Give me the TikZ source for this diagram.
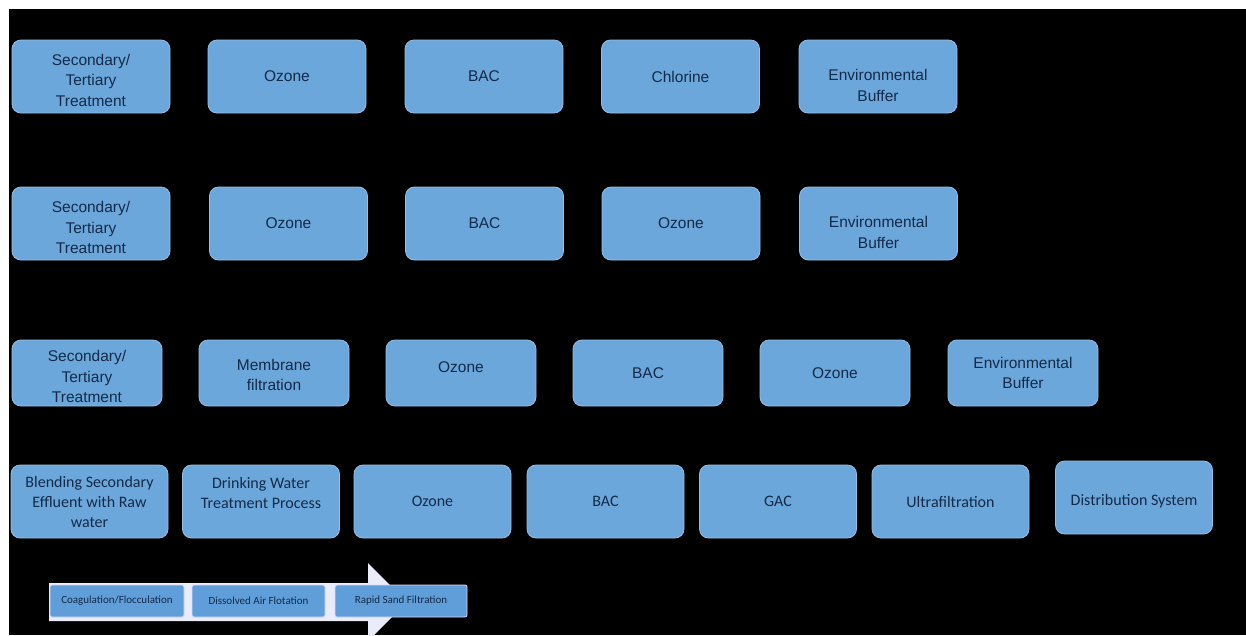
\documentclass[tikz,border=0pt]{standalone}
\usepackage{fontspec}
\setmainfont{Liberation Sans}
\newfontfamily\carlito{Carlito}
\definecolor{stagefill}{RGB}{108,167,220}
\definecolor{stageedge}{RGB}{150,190,228}
\definecolor{stagetext}{RGB}{20,42,72}
\definecolor{arrowfill}{RGB}{234,236,250}
\definecolor{stepfill}{RGB}{96,158,218}
% struts that move a label down (tall first line) or up (deep last line)
\newcommand\toppad[1]{\rule{0pt}{#1}}
\newcommand\botpad[1]{\rule[-#1]{0pt}{#1}}
\tikzset{
    stage/.style={draw=stageedge, line width=0.8pt, fill=stagefill,
        rounded corners=9pt, text=stagetext, align=center, inner sep=2pt,
        font={\fontsize{15.5}{20.5}\selectfont},
        minimum width=158pt, minimum height=73pt},
    lowstage/.style={stage, minimum width=150pt, minimum height=66pt},
    calstage/.style={stage, minimum width=157pt,
        font={\carlito\fontsize{16}{20}\selectfont}},
    stepbox/.style={draw=white!85!blue, line width=0.8pt, fill=stepfill,
        rounded corners=2pt, text=stagetext, inner sep=1pt,
        font={\carlito\fontsize{11}{12}\selectfont},
        minimum height=32pt}
}
\begin{document}
\begin{tikzpicture}[x=1pt, y=-1pt]
    \useasboundingbox (0,0) rectangle (1246,635);
    \fill[white] (0,0) rectangle (1246,635);
    \fill[black] (9,9) rectangle (1246,635);

    % first train
    \node[stage] (a1) at (91,76.5) {\toppad{19pt}Secondary/\\Tertiary\\Treatment};
    \node[stage] (a2) at (287,76.5) {Ozone};
    \node[stage] (a3) at (484,76.5) {BAC};
    \node[stage] (a4) at (680.5,76.5) {Chlorine};
    \node[stage] (a5) at (878,76.5) {\toppad{29pt}Environmental\\Buffer};

    % second train
    \node[stage] (b1) at (91,223.5) {\toppad{20pt}Secondary/\\Tertiary\\Treatment};
    \node[stage] (b2) at (288.5,223.5) {Ozone};
    \node[stage] (b3) at (484.5,223.5) {BAC};
    \node[stage] (b4) at (681,223.5) {Ozone};
    \node[stage] (b5) at (878.5,223.5) {\toppad{29pt}Environmental\\Buffer};

    % third train
    \node[lowstage] (c1) at (87,373) {\toppad{19pt}Secondary/\\Tertiary\\Treatment};
    \node[lowstage] (c2) at (274,373) {\toppad{15pt}Membrane\\filtration};
    \node[lowstage] (c3) at (461,373) {Ozone\botpad{12pt}};
    \node[lowstage] (c4) at (648,373) {BAC};
    \node[lowstage] (c5) at (835,373) {Ozone};
    \node[lowstage] (c6) at (1023,373) {Environmental\\Buffer};

    % fourth train
    \node[calstage] (d1) at (89.5,501.5) {Blending Secondary\\Effluent with Raw\\water};
    \node[calstage] (d2) at (261,501.5) {Drinking Water\\Treatment Process\botpad{18pt}};
    \node[calstage] (d3) at (432.5,501.5) {Ozone};
    \node[calstage] (d4) at (605.5,501.5) {BAC};
    \node[calstage] (d5) at (778,501.5) {GAC};
    \node[calstage] (d6) at (950.5,501.5) {Ultrafiltration};
    \node[calstage] (d7) at (1134,497.5) {\toppad{19pt}Distribution System};

    % drinking water steps
    \fill[arrowfill] (49,583) -- (368,583) -- (368,563) -- (407,602)
        -- (368,641) -- (368,621) -- (49,621) -- cycle;
    \node[stepbox, minimum width=134pt] (e1) at (117,601) {Coagulation/Flocculation};
    \node[stepbox, minimum width=133pt] (e2) at (258.5,601) {Dissolved Air Flotation};
    \node[stepbox, minimum width=132pt] (e3) at (401,601) {Rapid Sand Filtration};
\end{tikzpicture}
\end{document}
